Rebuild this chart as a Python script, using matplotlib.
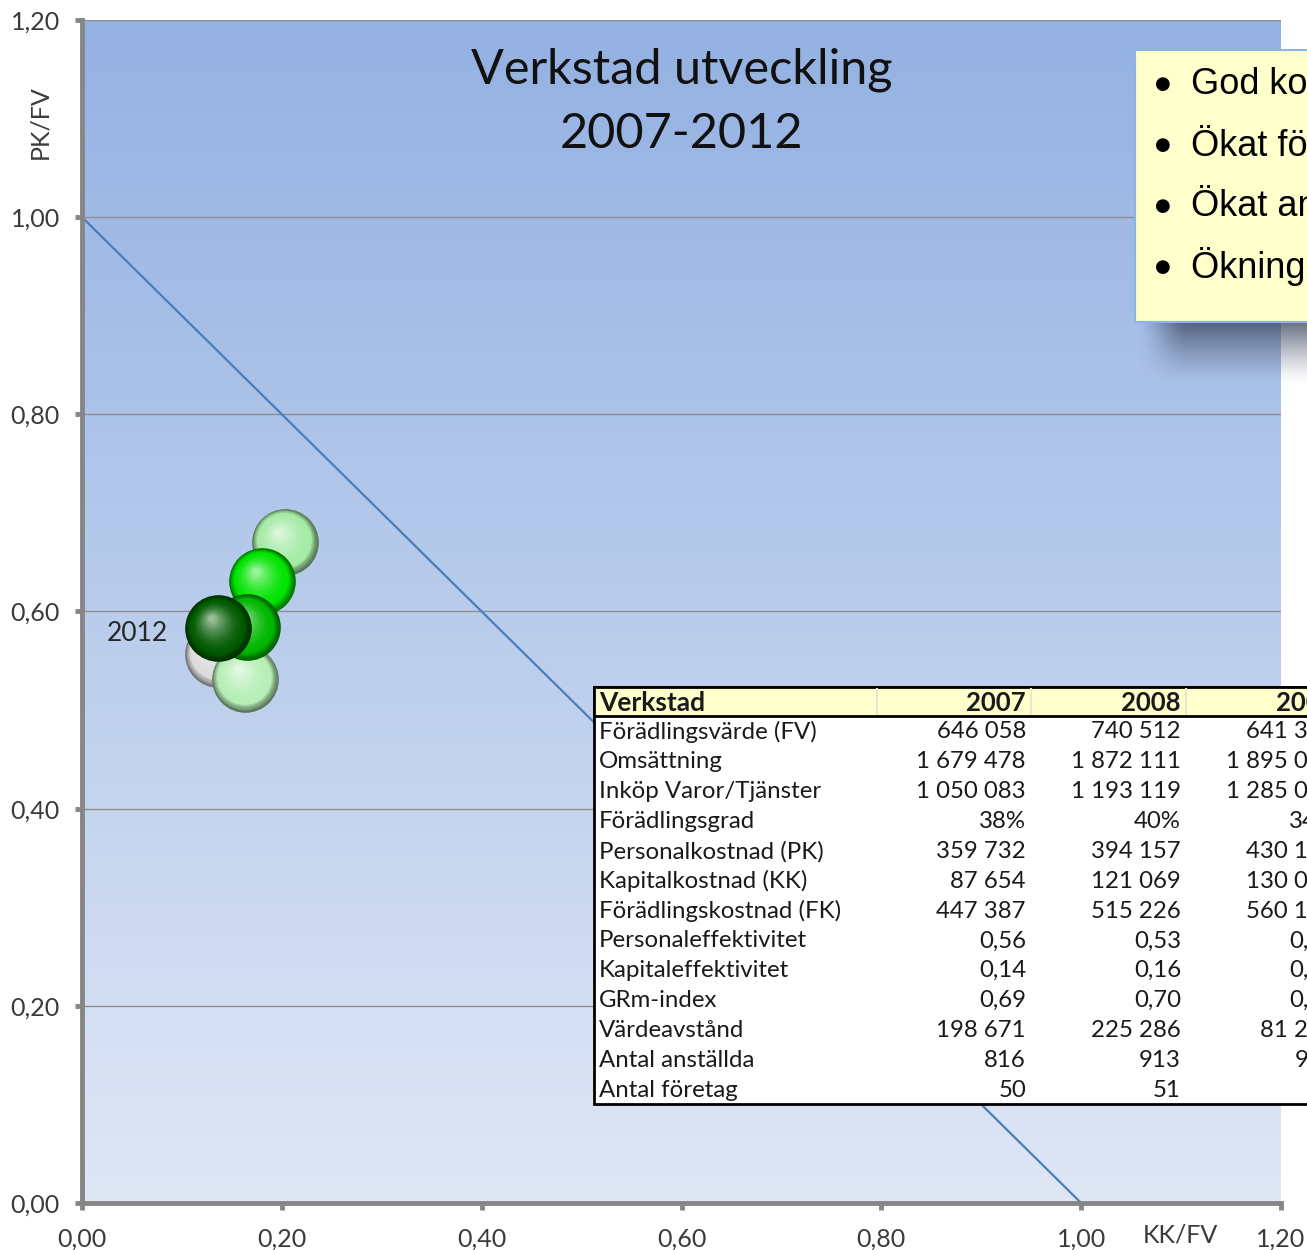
import numpy as np
import matplotlib
matplotlib.use('Agg')
import matplotlib.pyplot as plt
from matplotlib.patches import Rectangle
from matplotlib.colors import to_rgb, LinearSegmentedColormap
from matplotlib.ticker import FuncFormatter, MultipleLocator

plt.rcParams['font.family'] = ['Lato', 'DejaVu Sans']

# punkter i diagrammet, ett klot per år
years = [2007, 2008, 2009, 2010, 2011, 2012]
kk_fv = [0.136, 0.163, 0.203, 0.180, 0.165, 0.136]
pk_fv = [0.557, 0.532, 0.671, 0.631, 0.584, 0.583]
ball_colors = ['#dcdcdc', '#b6eeb6', '#a6eaa6', '#00e400', '#00b800', '#005a00']

# linjen GRm = 1
diag_x = [0.0, 1.0]
diag_y = [1.0, 0.0]

bullets = ['God kostnadskontroll', 'Ökat förädlingsvärde', 'Ökat antal anställda', 'Ökning av personalkostnad']

table_header = ['Verkstad', '2007', '2008', '2009']
row_labels = ['Förädlingsvärde (FV)', 'Omsättning', 'Inköp Varor/Tjänster', 'Förädlingsgrad',
              'Personalkostnad (PK)', 'Kapitalkostnad (KK)', 'Förädlingskostnad (FK)',
              'Personaleffektivitet', 'Kapitaleffektivitet', 'GRm-index', 'Värdeavstånd',
              'Antal anställda', 'Antal företag']
col_2007 = ['646 058', '1 679 478', '1 050 083', '38%', '359 732', '87 654', '447 387',
            '0,56', '0,14', '0,69', '198 671', '816', '50']
col_2008 = ['740 512', '1 872 111', '1 193 119', '40%', '394 157', '121 069', '515 226',
            '0,53', '0,16', '0,70', '225 286', '913', '51']
col_2009 = ['641 312', '1 895 047', '1 285 063', '34%', '430 148', '130 024', '560 172',
            '0,67', '0,20', '0,87', '81 227', '958', '52']

W, H = 1307, 1250
fig = plt.figure(figsize=(W / 100, H / 100), dpi=100)
ax = fig.add_axes([82 / W, 1 - 1203 / H, 1199 / W, 1183 / H])


def fx(px):
    return px / W


def fy(py):
    return 1 - py / H


# bakgrund med gradient
cmap = LinearSegmentedColormap.from_list('bg', ['#dfe7f5', '#93b1e2'])
grad = np.linspace(0, 1, 256).reshape(-1, 1)
ax.imshow(grad, extent=[0, 1.2, 0, 1.2], origin='lower', aspect='auto', cmap=cmap, zorder=0)

ax.set_xlim(0, 1.2)
ax.set_ylim(0, 1.2)
ax.xaxis.set_major_locator(MultipleLocator(0.2))
ax.yaxis.set_major_locator(MultipleLocator(0.2))
fmt = FuncFormatter(lambda v, p: f"{v:.2f}".replace('.', ','))
ax.xaxis.set_major_formatter(fmt)
ax.yaxis.set_major_formatter(fmt)
ax.set_axisbelow(True)
ax.yaxis.grid(True, color='#8e8e8e', lw=1)
for s in ['top', 'right']:
    ax.spines[s].set_visible(False)
for s in ['left', 'bottom']:
    ax.spines[s].set_color('#868686')
    ax.spines[s].set_linewidth(3.5)
ax.tick_params(direction='out', length=5, width=3.5, color='#868686',
               labelsize=18, labelcolor='#3a3a3a', pad=11)
ax.tick_params(axis='x', pad=13)

ax.plot(diag_x, diag_y, color='#4a7ebb', lw=1.6, zorder=2)


# klot med enkel skuggning
def sphere(x, y, color, size=2300, n=26):
    base = np.array(to_rgb(color))
    r = 0.033
    for k in range(n):
        t = k / (n - 1)
        if t < 0.2:
            c = base * (0.5 + 0.5 * t / 0.2)
        else:
            c = base + (1 - base) * 0.6 * ((t - 0.2) / 0.8) ** 1.6
        c = np.clip(c, 0, 1)
        scale = 1 - 0.9 * t
        ax.scatter(x - 0.2 * r * t, y + 0.3 * r * t, s=size * scale ** 2,
                   color=c, lw=0, zorder=3)


for x, y, c in zip(kk_fv, pk_fv, ball_colors):
    sphere(x, y, c)

ax.annotate(str(years[-1]), xy=(kk_fv[-1], pk_fv[-1]), xytext=(-36, -4),
            textcoords='offset points', ha='right', va='center', fontsize=19, color='#262626')

# titel och axeltitlar
fig.text(fx(682), fy(83), 'Verkstad utveckling', ha='center', va='baseline',
         fontsize=35, color='#111111')
fig.text(fx(682), fy(148), '2007-2012', ha='center', va='baseline',
         fontsize=35, color='#111111')
fig.text(fx(40), fy(122), 'PK/FV', rotation=90, ha='center', va='center', fontsize=18, color='#3a3a3a')
fig.text(fx(1180), fy(1235), 'KK/FV', ha='center', va='center', fontsize=18, color='#3a3a3a')

# skugga under den gula rutan
sx0, sx1, sy0, sy1 = 1125, 1307, 322, 400
sh_ax = fig.add_axes([fx(sx0), fy(sy1), fx(sx1 - sx0), fy(sy0) - fy(sy1)], zorder=0.5)
sh_ax.axis('off')
sh_ax.patch.set_alpha(0)
xx = np.arange(sx0, sx1) + 0.5
yy = np.arange(sy0, sy1) + 0.5
fade_y = np.clip(1 - (yy - sy0) / 62, 0, 1) ** 1.3
fade_x = np.clip((xx - 1135) / 55, 0, 1)
fade_x = fade_x * fade_x * (3 - 2 * fade_x)
alpha = 0.78 * fade_y[:, None] * fade_x[None, :]
rgba = np.zeros((len(yy), len(xx), 4))
rgba[..., :3] = to_rgb('#3c465f')
rgba[..., 3] = alpha
sh_ax.imshow(rgba, aspect='auto', interpolation='bilinear')

# gul textruta
fig.patches.append(Rectangle((fx(1135), fy(322)), fx(300), fy(50) - fy(322),
                             transform=fig.transFigure, facecolor='#ffffcc', edgecolor='#8db3e2',
                             lw=1.5, zorder=2))
for i, b in enumerate(bullets):
    yb = fy(84 + i * 61)
    fig.text(fx(1163), yb, '●', ha='center', va='center', fontsize=13, color='black',
             family='DejaVu Sans', zorder=4)
    fig.text(fx(1191), yb, b, ha='left', va='center', fontsize=26, color='black',
             family='Liberation Sans', zorder=4)

# tabell
t_left, t_top, head_h, row_h = 594, 687, 29, 29.85
t_bot = t_top + head_h + row_h * len(row_labels)
col_edges = [594, 877, 1031, 1186, 1341]
col_right = [1026, 1181, 1336]
fig.patches.append(Rectangle((fx(t_left), fy(t_bot)), fx(800), fy(t_top) - fy(t_bot),
                             transform=fig.transFigure, facecolor='white', edgecolor='black',
                             lw=2, zorder=2))
fig.patches.append(Rectangle((fx(t_left), fy(t_top + head_h)), fx(800), fy(t_top) - fy(t_top + head_h),
                             transform=fig.transFigure, facecolor='#ffffcc', edgecolor='black',
                             lw=2, zorder=2))
for e in col_edges[1:-1]:
    fig.add_artist(plt.Line2D([fx(e), fx(e)], [fy(t_top + 2), fy(t_top + head_h - 2)],
                              transform=fig.transFigure, color='#e8e8d0', lw=1.5, zorder=3))

tfs = 17.3
hy = fy(t_top + head_h / 2 + 1)
fig.text(fx(599), hy, table_header[0], ha='left', va='center', fontsize=19,
         fontweight='bold', color='#1a1a1a', zorder=4)
for h, xr in zip(table_header[1:], col_right):
    fig.text(fx(xr), hy, h, ha='right', va='center', fontsize=18.5, fontweight='bold',
             color='#1a1a1a', zorder=4)

for i, lab in enumerate(row_labels):
    yr = fy(t_top + head_h + row_h * (i + 0.5) + 1)
    fig.text(fx(599), yr, lab, ha='left', va='center', fontsize=tfs, color='#1a1a1a', zorder=4)
    for col, xr in zip([col_2007, col_2008, col_2009], col_right):
        fig.text(fx(xr), yr, col[i], ha='right', va='center', fontsize=tfs, color='#1a1a1a', zorder=4)

fig.savefig('out.png', dpi=100)
